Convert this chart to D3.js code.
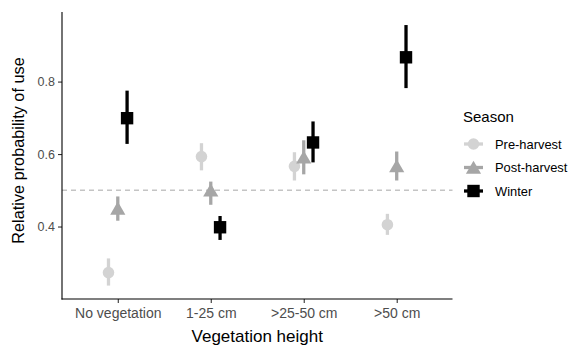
<!DOCTYPE html>
<html>
<head>
<meta charset="utf-8">
<script src="https://cdn.jsdelivr.net/npm/d3@7"></script>
<style>
  html, body { margin: 0; padding: 0; background: #fff; }
  svg { display: block; font-family: "Liberation Sans", Arial, sans-serif; }
</style>
</head>
<body>
<svg id="chart" width="569" height="346"></svg>
<script>
const categories = ["No vegetation", "1-25 cm", ">25-50 cm", ">50 cm"];
const seasons = ["Pre-harvest", "Post-harvest", "Winter"];
const yTicks = [0.4, 0.6, 0.8];
const refLine = 0.5;

const preEst  = [0.273, 0.593, 0.566, 0.405];
const preLow  = [0.237, 0.555, 0.527, 0.377];
const preHigh = [0.312, 0.630, 0.605, 0.435];

const postEst  = [0.450, 0.500, 0.591, 0.567];
const postLow  = [0.416, 0.460, 0.544, 0.527];
const postHigh = [0.483, 0.524, 0.638, 0.607];

const winterEst  = [0.699, 0.398, 0.632, 0.867];
const winterLow  = [0.628, 0.363, 0.577, 0.782];
const winterHigh = [0.775, 0.429, 0.690, 0.956];

const seriesData = [
  { name: seasons[0], est: preEst, low: preLow, high: preHigh },
  { name: seasons[1], est: postEst, low: postLow, high: postHigh },
  { name: seasons[2], est: winterEst, low: winterLow, high: winterHigh }
];

const svg = d3.select("#chart");
const panel = { left: 62, right: 452.5, top: 12, bottom: 299 };

const x = d3.scalePoint().domain(categories).range([panel.left, panel.right]).padding(0.6);
const y = d3.scaleLinear().domain([0.2, 0.992]).range([panel.bottom, panel.top]);
const color = d3.scaleOrdinal().domain(seasons).range(["#d3d3d3", "#a6a6a6", "#000000"]);
const dodge = d3.scalePoint().domain(seasons).range([-0.1, 0.1]);

function shapePath(season) {
  if (season === "Pre-harvest") return d3.symbol().type(d3.symbolCircle).size(Math.PI * 5.8 * 5.8)();
  if (season === "Post-harvest") return "M0,-6.8L7.6,6.3L-7.6,6.3Z";
  return "M-6.2,-6.2H6.2V6.2H-6.2Z";
}

// reference dashed line
svg.append("line")
  .attr("x1", panel.left).attr("x2", panel.right)
  .attr("y1", y(refLine)).attr("y2", y(refLine))
  .attr("stroke", "#c4c4c4").attr("stroke-width", 1.4)
  .attr("stroke-dasharray", "5,4");

// series
const step = x.step();
seriesData.forEach(s => {
  const g = svg.append("g");
  categories.forEach((c, i) => {
    const cx = x(c) + dodge(s.name) * step;
    g.append("line")
      .attr("x1", cx).attr("x2", cx)
      .attr("y1", y(s.low[i])).attr("y2", y(s.high[i]))
      .attr("stroke", color(s.name)).attr("stroke-width", 3.3);
    g.append("path")
      .attr("d", shapePath(s.name))
      .attr("transform", `translate(${cx},${y(s.est[i])})`)
      .attr("fill", color(s.name));
  });
});

// axes
const yAxis = d3.axisLeft(y).tickValues(yTicks).tickSize(4).tickPadding(3).tickFormat(d3.format(".1f"));
const yg = svg.append("g").attr("transform", `translate(${panel.left},0)`).call(yAxis);
yg.select(".domain").remove();
yg.selectAll(".tick line").attr("stroke", "#333").attr("stroke-width", 1.1);
yg.selectAll(".tick text").attr("fill", "#4d4d4d").style("font-size", "12.5px")
  .style("font-family", '"Liberation Sans", Arial, sans-serif');

const xAxis = d3.axisBottom(x).tickSize(4).tickPadding(5);
const xg = svg.append("g").attr("transform", `translate(0,${panel.bottom})`).call(xAxis);
xg.select(".domain").remove();
xg.selectAll(".tick line").attr("stroke", "#333").attr("stroke-width", 1.1);
xg.selectAll(".tick text").attr("fill", "#4d4d4d").style("font-size", "14px")
  .style("font-family", '"Liberation Sans", Arial, sans-serif');

svg.append("line").attr("x1", panel.left).attr("x2", panel.left)
  .attr("y1", panel.top).attr("y2", panel.bottom + 0.5)
  .attr("stroke", "#000").attr("stroke-width", 1.1);
svg.append("line").attr("x1", panel.left - 0.5).attr("x2", panel.right)
  .attr("y1", panel.bottom).attr("y2", panel.bottom)
  .attr("stroke", "#000").attr("stroke-width", 1.1);

// axis titles
svg.append("text")
  .attr("x", (panel.left + panel.right) / 2).attr("y", 342)
  .attr("text-anchor", "middle").style("font-size", "17px").attr("fill", "#000")
  .text("Vegetation height");
svg.append("text")
  .attr("transform", `translate(23.5,${(panel.top + panel.bottom) / 2 - 5}) rotate(-90)`)
  .attr("text-anchor", "middle").style("font-size", "16.3px").attr("fill", "#000")
  .text("Relative probability of use");

// legend
const leg = svg.append("g");
leg.append("text").attr("x", 463).attr("y", 122).style("font-size", "15px").attr("fill", "#000").text("Season");
const rowY = [144, 167.5, 191];
seasons.forEach((s, i) => {
  const ky = rowY[i];
  leg.append("line").attr("x1", 464).attr("x2", 483).attr("y1", ky).attr("y2", ky)
    .attr("stroke", color(s)).attr("stroke-width", 3.3);
  leg.append("path").attr("d", shapePath(s)).attr("transform", `translate(473.5,${ky})`).attr("fill", color(s));
  leg.append("text").attr("x", 495).attr("y", ky + 4.7).style("font-size", "12.9px").attr("fill", "#000").text(s);
});
</script>
</body>
</html>
